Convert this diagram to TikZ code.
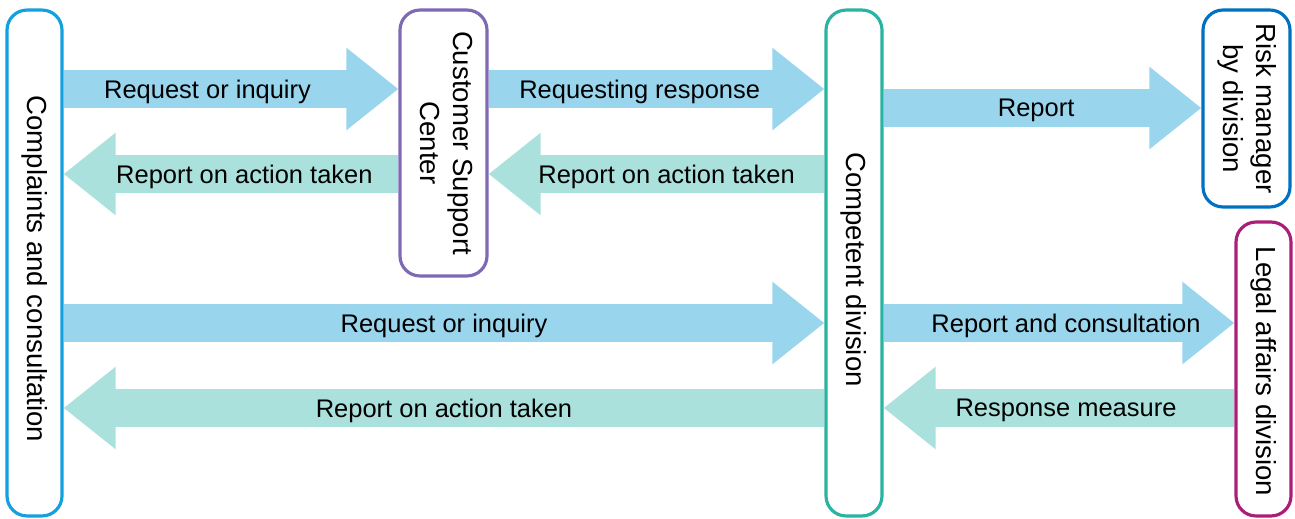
\documentclass[tikz,border=0pt]{standalone}
\usepackage{fontspec}
\setmainfont{Liberation Sans}
\usepackage{graphicx}
\usetikzlibrary{arrows.meta,positioning}
\tikzset{>=Stealth}

\definecolor{reqblue}{RGB}{154,213,238}
\definecolor{repmint}{RGB}{171,225,220}
\definecolor{complblue}{RGB}{20,160,222}
\definecolor{cscpurple}{RGB}{125,105,180}
\definecolor{compteal}{RGB}{40,180,160}
\definecolor{riskblue}{RGB}{0,112,192}
\definecolor{legalmag}{RGB}{170,30,120}

\begin{document}
\begin{tikzpicture}[
    x=0.02cm, y=0.02cm,
    box/.style={draw, line width=1.8pt, rounded corners=0.4cm, fill=white, inner sep=0pt,
      font=\fontsize{15.7}{18.5}\selectfont},
    fwd/.style={draw=reqblue, line width=0.76cm, -{Triangle[length=1.04cm,width=1.58cm]}},
    bwd/.style={draw=repmint, line width=0.76cm, -{Triangle[length=1.04cm,width=1.58cm]}},
    lbl/.style={font=\fontsize{14.5}{17}\selectfont, text=black, yshift=-0.05cm}
  ]
    \useasboundingbox (0,0) rectangle (1295,518);

    % boxes
    \node[box, draw=complblue, minimum width=1.1cm, minimum height=10.12cm] (compl) at (34.5,255)
      {\rotatebox{-90}{\hspace{0.24cm}Complaints and consultation}};
    \node[box, draw=cscpurple, minimum width=1.74cm, minimum height=5.32cm] (csc) at (443.5,375)
      {\rotatebox{-90}{\begin{tabular}{@{}c@{}}Customer Support\\Center\end{tabular}}};
    \node[box, draw=compteal, minimum width=1.12cm, minimum height=10.12cm] (comp) at (854,255)
      {\rotatebox{-90}{\hspace{0.26cm}Competent division}};
    \node[box, draw=riskblue, minimum width=1.74cm, minimum height=3.94cm] (risk) at (1246.5,409.5)
      {\rotatebox{-90}{\begin{tabular}{@{}c@{}}Risk manager\\by division\end{tabular}}};
    \node[box, draw=legalmag, minimum width=1.1cm, minimum height=5.88cm] (legal) at (1263.5,149)
      {\rotatebox{-90}{\hspace{0.1cm}Legal affairs division}};

    % arrow rows
    \coordinate (r1) at (0,429);
    \coordinate (r2) at (0,344);
    \coordinate (r3) at (0,410);
    \coordinate (r4) at (0,195);
    \coordinate (r5) at (0,110);

    \draw[fwd] (compl.east |- r1) -- node[lbl, pos=0.43]{Request or inquiry} (csc.west |- r1);
    \draw[bwd] (csc.west |- r2) -- node[lbl, pos=0.46]{Report on action taken} (compl.east |- r2);
    \draw[fwd] (csc.east |- r1) -- node[lbl, pos=0.45]{Requesting response} (comp.west |- r1);
    \draw[bwd] (comp.west |- r2) -- node[lbl, pos=0.47]{Report on action taken} (csc.east |- r2);
    \draw[fwd] (comp.east |- r3) -- node[lbl, pos=0.48]{Report} (risk.west |- r3);
    \draw[fwd] (compl.east |- r4) -- node[lbl, pos=0.5]{Request or inquiry} (comp.west |- r4);
    \draw[bwd] (comp.west |- r5) -- node[lbl, pos=0.5]{Report on action taken} (compl.east |- r5);
    \draw[fwd] (comp.east |- r4) -- node[lbl, pos=0.52]{Report and consultation} (legal.west |- r4);
    \draw[bwd] (legal.west |- r5) -- node[lbl, pos=0.48]{Response measure} (comp.east |- r5);
  \end{tikzpicture}
\end{document}
